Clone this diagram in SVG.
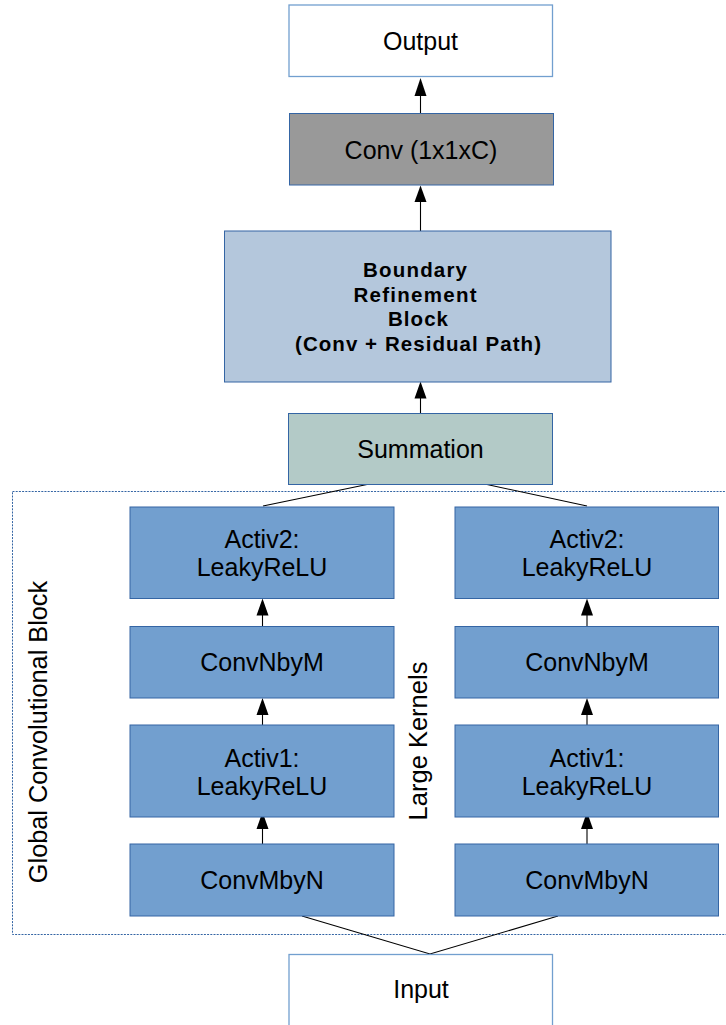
<svg xmlns="http://www.w3.org/2000/svg" width="726" height="1025" viewBox="0 0 726 1025">
<style>
text{font-family:"Liberation Sans",Arial,sans-serif;font-size:25px;fill:#000;text-anchor:middle}
.b{font-weight:bold;font-size:20.5px}
.white{fill:#ffffff;stroke:#729fcf;stroke-width:1.3}
.blk{fill:#729fcf;stroke:#3465a4;stroke-width:1}
.conv{fill:#999999;stroke:#3465a4;stroke-width:1}
.brb{fill:#b4c7dc;stroke:#3465a4;stroke-width:1}
.sum{fill:#b3cac7;stroke:#3465a4;stroke-width:1}
.ln{stroke:#000;stroke-width:1.1;fill:none}
.ah{fill:#000}
</style>
<rect x="0" y="0" width="726" height="1025" fill="#ffffff"/>
<rect id="gcb" x="12.5" y="491.5" width="720" height="443" fill="none" stroke="#3465a4" stroke-width="1" stroke-dasharray="2 1.2"/>
<text transform="translate(46.5,732) rotate(-90)" style="font-size:25.3px">Global Convolutional Block</text>
<text transform="translate(427,741) rotate(-90)" style="font-size:25.5px">Large Kernels</text>
<g id="connectors">
<path class="ln" d="M302 916 L430 954 L558 916"/>
<path class="ln" d="M263 506 L367 484.5"/>
<path class="ln" d="M487 484.5 L587 506"/>
<line class="ln" x1="262.5" y1="844" x2="262.5" y2="828"/>
<path class="ah" d="M262.5 812 L268.5 829 L256.5 829 Z"/>
<line class="ln" x1="262.5" y1="725" x2="262.5" y2="714"/>
<path class="ah" d="M262.5 698 L268.5 715 L256.5 715 Z"/>
<line class="ln" x1="262.5" y1="626" x2="262.5" y2="615"/>
<path class="ah" d="M262.5 598.5 L268.5 615.5 L256.5 615.5 Z"/>
<line class="ln" x1="587" y1="844" x2="587" y2="828"/>
<path class="ah" d="M587 812 L593 829 L581 829 Z"/>
<line class="ln" x1="587" y1="725" x2="587" y2="714"/>
<path class="ah" d="M587 698 L593 715 L581 715 Z"/>
<line class="ln" x1="587" y1="626" x2="587" y2="615"/>
<path class="ah" d="M587 598.5 L593 615.5 L581 615.5 Z"/>
<line class="ln" x1="420.5" y1="413" x2="420.5" y2="397"/>
<path class="ah" d="M420.5 381.5 L426.5 398.5 L414.5 398.5 Z"/>
<line class="ln" x1="420.5" y1="231" x2="420.5" y2="201"/>
<path class="ah" d="M420.5 185.5 L426.5 202 L414.5 202 Z"/>
<line class="ln" x1="420.5" y1="113" x2="420.5" y2="95"/>
<path class="ah" d="M420.5 78 L426.5 96 L414.5 96 Z"/>
</g>
<g id="output"><rect class="white" x="289" y="5" width="263.5" height="71.5"/><text x="420.5" y="50">Output</text></g>
<g id="conv1x1"><rect class="conv" x="289.5" y="113.5" width="264" height="71.5"/><text x="421" y="158.5">Conv (1x1xC)</text></g>
<g id="brb"><rect class="brb" x="224.5" y="231" width="386.5" height="151"/>
<text class="b" x="415" y="277" textLength="104" lengthAdjust="spacing">Boundary</text>
<text class="b" x="415" y="301.5" textLength="123" lengthAdjust="spacing">Refinement</text>
<text class="b" x="418" y="326" textLength="60" lengthAdjust="spacing">Block</text>
<text class="b" x="418" y="350.5" textLength="246" lengthAdjust="spacing">(Conv + Residual Path)</text></g>
<g id="summation"><rect class="sum" x="288.5" y="413.5" width="264" height="71"/><text x="420.5" y="458">Summation</text></g>
<g id="l_activ2"><rect class="blk" x="130" y="507" width="264" height="91.5"/><text x="262" y="547.5">Activ2:</text><text x="262" y="575.5">LeakyReLU</text></g>
<g id="l_convnbym"><rect class="blk" x="130" y="626.5" width="264" height="71.5"/><text x="262" y="670.5">ConvNbyM</text></g>
<g id="l_activ1"><rect class="blk" x="130" y="725" width="264" height="92"/><text x="262" y="766.5">Activ1:</text><text x="262" y="794.5">LeakyReLU</text></g>
<g id="l_convmbyn"><rect class="blk" x="130" y="844" width="264" height="72"/><text x="262" y="889">ConvMbyN</text></g>
<g id="r_activ2"><rect class="blk" x="455" y="507" width="263.5" height="91.5"/><text x="587" y="547.5">Activ2:</text><text x="587" y="575.5">LeakyReLU</text></g>
<g id="r_convnbym"><rect class="blk" x="455" y="626.5" width="263.5" height="71.5"/><text x="587" y="670.5">ConvNbyM</text></g>
<g id="r_activ1"><rect class="blk" x="455" y="725" width="263.5" height="92"/><text x="587" y="766.5">Activ1:</text><text x="587" y="794.5">LeakyReLU</text></g>
<g id="r_convmbyn"><rect class="blk" x="455" y="844" width="263.5" height="72"/><text x="587" y="889">ConvMbyN</text></g>
<g id="input"><rect class="white" x="289" y="954.5" width="263.5" height="80"/><text x="421" y="998">Input</text></g>
</svg>
